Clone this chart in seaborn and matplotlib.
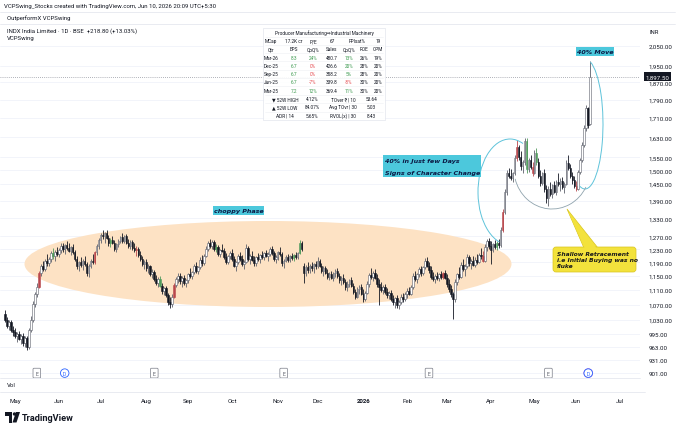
import matplotlib
matplotlib.use("Agg")
import matplotlib.pyplot as plt
import matplotlib.patches as mpatches
import matplotlib.transforms as mtransforms
from matplotlib.lines import Line2D
from matplotlib.ticker import NullLocator, FixedLocator
import numpy as np
import pandas as pd
import seaborn as sns

# daily candles (open, high, low, close), one list per month
apr_25 = [(1045, 1055, 1025, 1030), (1030, 1038, 1010, 1015), (1015, 1030, 1005, 1025),
          (1025, 1030, 1000, 1005), (1005, 1015, 990, 1000)]
may_25 = [(1000, 1008, 985, 990), (990, 1000, 975, 995), (995, 1002, 978, 982), (982, 995, 970, 988),
          (988, 996, 965, 972), (972, 990, 962, 985), (985, 990, 955, 962), (962, 1010, 958, 1005),
          (1005, 1040, 998, 1030), (1030, 1080, 1025, 1072), (1072, 1105, 1065, 1098),
          (1098, 1130, 1090, 1120), (1120, 1165, 1115, 1160), (1160, 1185, 1150, 1178),
          (1178, 1195, 1165, 1170), (1170, 1200, 1165, 1195), (1195, 1215, 1180, 1188),
          (1188, 1205, 1178, 1200), (1200, 1225, 1190, 1218), (1218, 1235, 1200, 1210),
          (1210, 1228, 1195, 1222), (1222, 1238, 1210, 1215)]
jun_25 = [(1215, 1235, 1205, 1228), (1228, 1248, 1218, 1240), (1240, 1250, 1222, 1230),
          (1230, 1245, 1215, 1242), (1242, 1255, 1228, 1235), (1235, 1250, 1220, 1225),
          (1225, 1240, 1212, 1238), (1238, 1245, 1215, 1220), (1220, 1228, 1195, 1200),
          (1200, 1210, 1170, 1178), (1178, 1195, 1165, 1190), (1190, 1205, 1175, 1182),
          (1182, 1200, 1168, 1195), (1195, 1208, 1180, 1185), (1185, 1192, 1150, 1160),
          (1160, 1185, 1148, 1180), (1180, 1200, 1172, 1195), (1195, 1215, 1185, 1190),
          (1190, 1225, 1185, 1220), (1220, 1245, 1212, 1240), (1240, 1265, 1230, 1258)]
jul_25 = [(1258, 1280, 1250, 1275), (1275, 1292, 1262, 1270), (1270, 1285, 1250, 1282),
          (1282, 1290, 1262, 1265), (1265, 1275, 1240, 1248), (1248, 1265, 1238, 1260),
          (1260, 1272, 1245, 1250), (1250, 1258, 1225, 1232), (1232, 1250, 1222, 1245),
          (1245, 1262, 1238, 1255), (1255, 1272, 1248, 1268), (1268, 1280, 1250, 1256),
          (1256, 1275, 1248, 1270), (1270, 1278, 1245, 1250), (1250, 1262, 1235, 1240),
          (1240, 1258, 1232, 1252), (1252, 1260, 1228, 1235), (1235, 1248, 1222, 1228),
          (1228, 1240, 1210, 1232), (1232, 1238, 1205, 1212), (1212, 1225, 1195, 1200),
          (1200, 1210, 1178, 1185), (1185, 1198, 1170, 1192)]
aug_25 = [(1192, 1200, 1165, 1172), (1172, 1185, 1160, 1178), (1178, 1182, 1150, 1155),
          (1155, 1170, 1145, 1162), (1162, 1168, 1135, 1140), (1140, 1152, 1125, 1130),
          (1130, 1148, 1120, 1142), (1142, 1150, 1118, 1122), (1122, 1130, 1100, 1108),
          (1108, 1120, 1095, 1115), (1115, 1122, 1090, 1095), (1095, 1102, 1070, 1078),
          (1078, 1092, 1062, 1072), (1072, 1098, 1065, 1092), (1092, 1130, 1088, 1125),
          (1125, 1148, 1118, 1140), (1140, 1158, 1130, 1150), (1150, 1160, 1128, 1135),
          (1135, 1150, 1120, 1145), (1145, 1152, 1125, 1130), (1130, 1142, 1118, 1138)]
sep_25 = [(1138, 1160, 1130, 1155), (1155, 1172, 1145, 1150), (1150, 1165, 1140, 1162),
          (1162, 1185, 1155, 1178), (1178, 1190, 1160, 1165), (1165, 1180, 1155, 1175),
          (1175, 1205, 1170, 1198), (1198, 1212, 1180, 1188), (1188, 1215, 1182, 1210),
          (1210, 1240, 1205, 1232), (1232, 1255, 1225, 1248), (1248, 1262, 1235, 1240),
          (1240, 1258, 1230, 1252), (1252, 1260, 1225, 1232), (1232, 1245, 1220, 1238),
          (1238, 1242, 1210, 1215), (1215, 1232, 1205, 1228), (1228, 1245, 1220, 1225),
          (1225, 1235, 1200, 1205), (1205, 1218, 1185, 1190), (1190, 1212, 1185, 1208),
          (1208, 1225, 1200, 1218)]
oct_25 = [(1218, 1230, 1195, 1200), (1200, 1208, 1175, 1180), (1180, 1195, 1165, 1190),
          (1190, 1215, 1185, 1210), (1210, 1222, 1195, 1200), (1200, 1212, 1180, 1185),
          (1185, 1198, 1170, 1192), (1192, 1245, 1188, 1235), (1235, 1240, 1195, 1200),
          (1200, 1215, 1185, 1210), (1210, 1225, 1195, 1198), (1198, 1210, 1178, 1188),
          (1188, 1208, 1180, 1205), (1205, 1218, 1195, 1200), (1200, 1215, 1188, 1212),
          (1212, 1225, 1200, 1205), (1205, 1222, 1198, 1218), (1218, 1228, 1205, 1210),
          (1210, 1220, 1195, 1215), (1215, 1238, 1210, 1232), (1232, 1240, 1212, 1218),
          (1218, 1225, 1195, 1200), (1200, 1212, 1188, 1205)]
nov_25 = [(1205, 1225, 1198, 1220), (1220, 1238, 1210, 1215), (1215, 1222, 1180, 1188),
          (1188, 1200, 1172, 1195), (1195, 1212, 1190, 1205), (1205, 1215, 1192, 1198),
          (1198, 1212, 1190, 1208), (1208, 1218, 1198, 1202), (1202, 1215, 1195, 1212),
          (1212, 1220, 1200, 1205), (1205, 1222, 1200, 1218), (1218, 1260, 1215, 1250),
          (1250, 1255, 1225, 1232), (1180, 1188, 1130, 1160), (1160, 1182, 1150, 1175),
          (1175, 1190, 1160, 1168), (1168, 1185, 1158, 1180), (1180, 1192, 1165, 1172),
          (1172, 1188, 1160, 1185), (1185, 1195, 1170, 1178)]
dec_25 = [(1178, 1205, 1172, 1195), (1195, 1200, 1175, 1180), (1180, 1188, 1160, 1165),
          (1165, 1178, 1150, 1172), (1172, 1180, 1155, 1160), (1160, 1170, 1142, 1148),
          (1148, 1162, 1138, 1155), (1155, 1165, 1140, 1145), (1145, 1162, 1135, 1158),
          (1158, 1170, 1148, 1165), (1165, 1172, 1145, 1150), (1150, 1158, 1130, 1138),
          (1138, 1150, 1125, 1145), (1145, 1155, 1128, 1132), (1132, 1140, 1110, 1118),
          (1118, 1135, 1108, 1128), (1128, 1142, 1120, 1138), (1138, 1148, 1118, 1122),
          (1122, 1130, 1098, 1105), (1105, 1112, 1085, 1092), (1092, 1118, 1088, 1112),
          (1112, 1125, 1100, 1120), (1120, 1128, 1095, 1100)]
jan_26 = [(1100, 1112, 1078, 1085), (1085, 1108, 1080, 1102), (1102, 1135, 1098, 1128),
          (1128, 1160, 1120, 1152), (1152, 1172, 1140, 1148), (1148, 1165, 1135, 1160),
          (1160, 1170, 1140, 1145), (1145, 1155, 1120, 1128), (1128, 1140, 1070, 1120),
          (1120, 1132, 1105, 1110), (1110, 1125, 1098, 1118), (1118, 1128, 1100, 1105),
          (1105, 1115, 1088, 1095), (1095, 1108, 1085, 1102), (1102, 1110, 1080, 1085),
          (1085, 1095, 1070, 1078), (1078, 1092, 1062, 1088), (1088, 1095, 1060, 1068),
          (1068, 1082, 1058, 1078), (1078, 1098, 1072, 1092), (1092, 1102, 1078, 1085),
          (1085, 1105, 1080, 1100)]
feb_26 = [(1100, 1115, 1088, 1108), (1108, 1120, 1095, 1100), (1100, 1125, 1095, 1118),
          (1118, 1160, 1112, 1150), (1150, 1165, 1135, 1142), (1142, 1158, 1130, 1155),
          (1155, 1175, 1148, 1170), (1170, 1178, 1150, 1158), (1158, 1180, 1152, 1175),
          (1175, 1202, 1170, 1195), (1195, 1205, 1175, 1180), (1180, 1192, 1160, 1168),
          (1168, 1178, 1140, 1148), (1148, 1162, 1135, 1140), (1140, 1155, 1130, 1150),
          (1150, 1162, 1138, 1145), (1145, 1160, 1135, 1155), (1155, 1165, 1140, 1148),
          (1148, 1162, 1142, 1158), (1158, 1168, 1140, 1145)]
mar_26 = [(1145, 1155, 1120, 1128), (1128, 1140, 1105, 1112), (1112, 1125, 1090, 1098),
          (1098, 1105, 1032, 1085), (1085, 1140, 1078, 1132), (1132, 1160, 1125, 1155),
          (1155, 1175, 1142, 1148), (1148, 1190, 1145, 1182), (1182, 1200, 1165, 1170),
          (1170, 1185, 1150, 1178), (1178, 1215, 1172, 1205), (1205, 1212, 1180, 1188),
          (1188, 1200, 1170, 1195), (1195, 1210, 1178, 1182), (1182, 1205, 1175, 1198),
          (1198, 1215, 1185, 1192), (1192, 1218, 1188, 1212), (1212, 1235, 1200, 1208),
          (1208, 1225, 1190, 1195), (1195, 1245, 1190, 1238), (1238, 1262, 1225, 1255),
          (1255, 1265, 1230, 1240)]
apr_26 = [(1240, 1255, 1185, 1228), (1228, 1250, 1220, 1245), (1245, 1260, 1232, 1238),
          (1238, 1255, 1228, 1250), (1250, 1262, 1235, 1242), (1242, 1300, 1238, 1292),
          (1292, 1360, 1285, 1352), (1352, 1430, 1345, 1420), (1420, 1500, 1410, 1488),
          (1488, 1510, 1470, 1480), (1480, 1505, 1462, 1470), (1470, 1495, 1455, 1490),
          (1490, 1560, 1482, 1548), (1548, 1620, 1535, 1590), (1590, 1600, 1540, 1552),
          (1552, 1575, 1500, 1515), (1515, 1540, 1490, 1530), (1530, 1628, 1520, 1615),
          (1615, 1625, 1490, 1505), (1505, 1545, 1495, 1538), (1538, 1560, 1505, 1512),
          (1512, 1530, 1478, 1490)]
may_26 = [(1490, 1580, 1485, 1568), (1568, 1585, 1520, 1530), (1530, 1545, 1470, 1478),
          (1478, 1500, 1440, 1452), (1452, 1495, 1445, 1488), (1488, 1505, 1420, 1430),
          (1430, 1445, 1380, 1398), (1398, 1440, 1370, 1432), (1432, 1455, 1405, 1412),
          (1412, 1450, 1400, 1445), (1445, 1460, 1415, 1420), (1420, 1462, 1410, 1455),
          (1455, 1490, 1440, 1448), (1448, 1470, 1425, 1460), (1460, 1475, 1430, 1438),
          (1438, 1455, 1415, 1450), (1450, 1540, 1445, 1528), (1528, 1560, 1500, 1510),
          (1510, 1525, 1470, 1478), (1478, 1495, 1450, 1462), (1462, 1480, 1435, 1442)]
jun_26 = [(1442, 1460, 1425, 1432), (1432, 1500, 1428, 1492), (1492, 1545, 1485, 1538),
          (1538, 1610, 1530, 1598), (1598, 1680, 1590, 1668), (1668, 1765, 1655, 1752),
          (1752, 1760, 1670, 1678.7), (1685, 1975, 1680, 1897.5)]

green_bars = [24, 53, 78, 106, 145, 148, 247, 262, 267]
red_bars = [17, 45, 66, 85, 220, 240, 250, 257, 265, 287]

earnings_days = ["2025-05-16", "2025-08-07", "2025-11-06", "2026-02-17", "2026-05-12"]
dividend_days = ["2025-06-05", "2026-06-09"]

price_ticks = [901, 931, 963, 995, 1030, 1070, 1110, 1150, 1190, 1230, 1270, 1330,
               1390, 1450, 1500, 1550, 1630, 1710, 1790, 1870, 1950, 2050]
last_price = 1897.50

# fundamentals table
quarters = ["Mar-26", "Dec-25", "Sep-25", "Jun-25", "Mar-25"]
eps = ["8.3", "6.7", "6.7", "6.7", "7.2"]
eps_qoq = ["24%", "0%", "0%", "-7%", "12%"]
sales = ["480.7", "426.6", "358.2", "339.8", "369.4"]
sales_qoq = ["13%", "20%", "5%", "-8%", "11%"]
roe = ["26%", "28%", "28%", "30%", "30%"]
opm = ["19%", "20%", "20%", "20%", "20%"]
stats_left = [("▼ 52W HIGH", "4.12%"), ("▲ 52W LOW", "84.07%"), ("ADR | 14", "5.65%")]
stats_right = [("TOver ₹ | 10", "53.64"), ("Avg TOvr | 30", "5.03"), ("RVOL(x) | 30", "8.43")]

sns.set_theme(style="white")
plt.rcParams["font.family"] = ["Roboto", "DejaVu Sans"]

W, H = 680, 431
INK = "#131722"
GREEN = "#3d9a50"
RED = "#e5484d"
CYAN = "#4cc8dc"

df = pd.DataFrame([b for m in [apr_25, may_25, jun_25, jul_25, aug_25, sep_25, oct_25, nov_25,
                               dec_25, jan_26, feb_26, mar_26, apr_26, may_26, jun_26] for b in m],
                  columns=["open", "high", "low", "close"])
df["date"] = pd.bdate_range("2025-04-24", periods=len(df))
df["x"] = np.arange(len(df))

fig = plt.figure(figsize=(6.8, 4.31), dpi=100)
fig.patch.set_facecolor("white")
px = mtransforms.Affine2D().scale(1 / W, 1 / H) + fig.transFigure

ax = fig.add_axes([0, 1 - 379 / H, 640 / W, (379 - 25) / H])
vol = fig.add_axes([0, 1 - 393 / H, 640 / W, 14 / H], sharex=ax)

# candles
up = (df["close"] >= df["open"]).to_numpy()
face = np.where(up, "#ffffff", INK).astype(object)
edge = np.where(up, "#5d606b", INK).astype(object)
for i in green_bars:
    face[i] = edge[i] = "#4f9a5c"
for i in red_bars:
    face[i] = edge[i] = "#b8474c"
body_lo = df[["open", "close"]].min(axis=1)
body_h = (df["close"] - df["open"]).abs().clip(lower=1.5)
ax.vlines(df["x"], df["low"], df["high"], colors=list(edge), lw=0.6, zorder=3)
ax.bar(df["x"], body_h, bottom=body_lo, width=0.8, color=list(face),
       edgecolor=list(edge), linewidth=0.4, zorder=4)

ax.set_yscale("log")
ax.set_ylim(890, 2166)
ax.set_xlim(-2.5, 319)
ax.yaxis.set_major_locator(FixedLocator(price_ticks))
ax.yaxis.set_minor_locator(NullLocator())
ax.set_yticklabels([f"{v:,.2f}" for v in price_ticks])
ax.yaxis.tick_right()
ax.tick_params(axis="y", length=0, pad=6, labelsize=4.4, labelcolor=INK)
ax.tick_params(axis="x", length=0, labelbottom=False)
ax.grid(axis="y", color="#f0f3fa", lw=0.6)
ax.set_axisbelow(True)
for s in ax.spines.values():
    s.set_visible(False)

# last price line and tag
ax.axhline(last_price, color="#9598a1", lw=0.6, ls=(0, (1, 1.5)), zorder=2)
ax.annotate(f"{last_price:,.2f}", xy=(1, last_price), xycoords=("axes fraction", "data"),
            xytext=(4, 0), textcoords="offset points", ha="left", va="center",
            fontsize=4.4, color="white", annotation_clip=False,
            bbox=dict(boxstyle="square,pad=0.3", fc=INK, ec="none"))

# earnings / dividend markers
for d in earnings_days:
    i = df.index[df["date"] == pd.Timestamp(d)][0]
    ax.text(i, 901, "E", ha="center", va="center", fontsize=3.8, color="#5d606b", zorder=6,
            bbox=dict(boxstyle="round,pad=0.45,rounding_size=0.2", fc="white", ec="#787b86", lw=0.5))
for d in dividend_days:
    i = df.index[df["date"] == pd.Timestamp(d)][0]
    ax.text(i, 901, "D", ha="center", va="center", fontsize=3.6, color="#2962ff", zorder=6,
            bbox=dict(boxstyle="circle,pad=0.35", fc="white", ec="#2962ff", lw=0.6))
ax.scatter([df.index[df["date"] == pd.Timestamp(dividend_days[-1])][0]], [901], s=40,
           facecolors="none", edgecolors="#b36bd8", lw=0.6, zorder=5)

# choppy phase zone and curves
ax.add_artist(mpatches.Ellipse((268, H - 265), 487, 86, transform=px, fc="#fde2c4", ec="none", zorder=1))
ax.add_artist(mpatches.Arc((510, H - 193), 64, 106, theta1=75, theta2=258, transform=px,
                           color="#5ec3da", lw=0.7, zorder=5))
ax.add_artist(mpatches.Arc((585, H - 125), 36, 130, theta1=-95, theta2=85, transform=px,
                           color="#5ec3da", lw=0.7, zorder=5))
ax.add_artist(mpatches.Arc((552, H - 170), 76, 80, theta1=195, theta2=332, transform=px,
                           color="#8fa3ad", lw=0.6, zorder=5))

# volume pane and time axis
vol.set_yticks([])
vol.tick_params(axis="x", length=0, pad=4, labelsize=4.4, labelcolor=INK)
for s in vol.spines.values():
    s.set_visible(False)
ext = pd.bdate_range("2025-04-24", periods=330)
pos = pd.Series(np.arange(330), index=ext).groupby(ext.to_period("M")).min()
pos = pos[(pos.index >= pd.Period("2025-05")) & (pos.index <= pd.Period("2026-07"))]
vol.set_xticks(pos.values)
labels = [str(p.year) if p.month == 1 else p.strftime("%b") for p in pos.index]
vol.set_xticklabels(labels)
for t in vol.get_xticklabels():
    if t.get_text().isdigit():
        t.set_fontweight("bold")
vol.text(7 / 640, 0.5, "Vol", transform=vol.transAxes, fontsize=4.4, color=INK, va="center")

def line(x0, x1, y, color="#e0e3eb", lw=0.5):
    fig.add_artist(Line2D([x0, x1], [H - y, H - y], transform=px, color=color, lw=lw))

def ftext(x, y, s, **kw):
    kw.setdefault("fontsize", 3.4)
    kw.setdefault("ha", "center")
    kw.setdefault("va", "center")
    kw.setdefault("color", INK)
    kw.setdefault("zorder", 7)
    fig.text(x, H - y, s, transform=px, **kw)

line(0, 675, 12.5)
line(0, 675, 25)
line(0, 640, 379)
line(0, 645, 393)

# header texts
ftext(4, 6, "VCPSwing_Stocks created with TradingView.com, Jun 10, 2026 20:09 UTC+5:30",
      fontsize=4.3, ha="left")
ftext(7, 18, "OutperformX VCPSwing", fontsize=4.3, ha="left")
ftext(7, 31.5, "INDX India Limited · 1D · BSE  +218.80 (+13.03%)", fontsize=4.3, ha="left")
ftext(7, 38.5, "VCPSwing", fontsize=4.3, ha="left")
ftext(650, 32, "INR", fontsize=4.2, ha="left")

# fundamentals table
fig.add_artist(mpatches.Rectangle((263, H - 121), 122, 92, transform=px, fc="white",
                                  ec="#e0e3eb", lw=0.5, alpha=0.92, zorder=6))
for yy in [37.5, 45.5, 53.5, 62, 70.5, 78.5, 87, 95.5, 104, 112.5]:
    fig.add_artist(Line2D([265, 383], [H - yy, H - yy], transform=px, color="#eef0f4", lw=0.4, zorder=6))
cols = [271, 294, 313, 332, 349, 364, 378]
ftext(324, 33.5, "Producer Manufacturing⇒Industrial Machinery")
for xx, s in zip([271, 294, 313, 332, 357, 378], ["MCap", "17.2K cr", "P/E", "67", "FPIsat%", "19"]):
    ftext(xx, 41.5, s)
for xx, s in zip(cols, ["Qtr", "EPS", "QoQ%", "Sales", "QoQ%", "ROE", "OPM"]):
    ftext(xx, 49.5, s)
for r, q in enumerate(quarters):
    yy = 58 + r * 8.3
    ftext(cols[0], yy, q)
    ftext(cols[1], yy, eps[r], color=GREEN)
    ftext(cols[2], yy, eps_qoq[r], color=RED if eps_qoq[r] == "0%" or eps_qoq[r].startswith("-") else GREEN)
    ftext(cols[3], yy, sales[r])
    ftext(cols[4], yy, sales_qoq[r], color=RED if sales_qoq[r].startswith("-") else GREEN)
    ftext(cols[5], yy, roe[r])
    ftext(cols[6], yy, opm[r])
for r, ((l1, v1), (l2, v2)) in enumerate(zip(stats_left, stats_right)):
    yy = 99.7 + r * 8.2
    ftext(285, yy, l1)
    ftext(312, yy, v1)
    ftext(343, yy, l2)
    ftext(371, yy, v2)

# annotation labels
label_kw = dict(fontsize=4.6, fontweight="bold", fontstyle="italic", color="#0b1a45",
                family=["DejaVu Sans"])
fig.add_artist(mpatches.Rectangle((213, H - 216), 51, 9, transform=px, fc=CYAN, ec="none", zorder=6))
ftext(238.5, 211.5, "choppy Phase", **label_kw)
fig.add_artist(mpatches.Rectangle((576, H - 57), 38, 9, transform=px, fc=CYAN, ec="none", zorder=6))
ftext(595, 52.5, "40% Move", **label_kw)
fig.add_artist(mpatches.Rectangle((383, H - 178), 98, 22, transform=px, fc=CYAN, ec="none", zorder=6))
ftext(385, 161, "40% in Just few Days", ha="left", **label_kw)
ftext(385, 173.5, "Signs of Character Change", ha="left", **label_kw)

# yellow callout
fig.add_artist(mpatches.Polygon([(584, H - 249), (598, H - 249), (567, H - 210)], closed=True,
                                transform=px, fc="#f3e23c", ec="#d8c51e", lw=0.5, zorder=6))
fig.add_artist(mpatches.FancyBboxPatch((553, H - 273), 83, 25, boxstyle="round,pad=0,rounding_size=3",
                                       transform=px, fc="#f3e23c", ec="#d8c51e", lw=0.5, zorder=6))
fig.add_artist(mpatches.Polygon([(585, H - 250), (597, H - 250), (568, H - 212)], closed=True,
                                transform=px, fc="#f3e23c", ec="none", zorder=6))
for yy, s in zip([254.5, 260.5, 266.5], ["Shallow Retracement", "i.e Initial Buying was no", "fluke"]):
    ftext(557, yy, s, ha="left", fontsize=4.3, fontweight="bold", fontstyle="italic",
          color="#1a1a1a", family=["DejaVu Sans"])

# TradingView logo
fig.add_artist(mpatches.Rectangle((5, H - 416.5), 7, 3.5, transform=px, fc=INK, ec="none"))
fig.add_artist(mpatches.Rectangle((8.5, H - 423.5), 3.5, 10.5, transform=px, fc=INK, ec="none"))
fig.add_artist(mpatches.Circle((14.5, H - 415), 1.7, transform=px, fc=INK, ec="none"))
fig.add_artist(mpatches.Polygon([(16, H - 413), (20, H - 413), (16.5, H - 423.5), (12.5, H - 423.5)],
                                transform=px, fc=INK, ec="none"))
ftext(22, 418.5, "TradingView", fontsize=6.6, fontweight="bold", ha="left")

fig.savefig("out.png", dpi=100)
